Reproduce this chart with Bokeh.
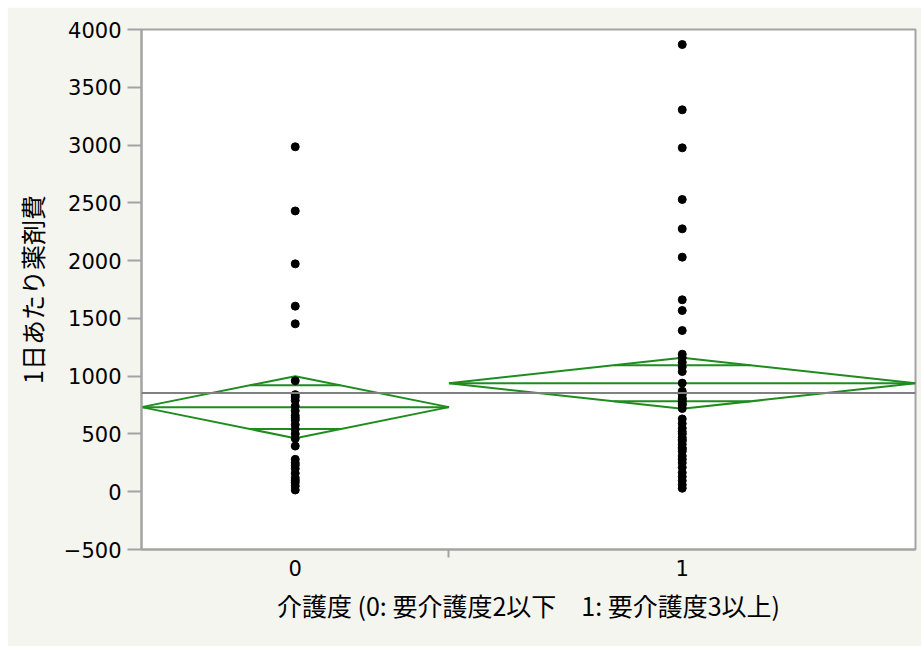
from bokeh.plotting import figure
from bokeh.models import FixedTicker, Span, Range1d
from bokeh.embed import file_html
from bokeh.resources import INLINE

# ---- data ----
group_labels = ["0", "1"]
group0_values = [2985, 2430, 1972, 1606, 1453, 960, 840, 820, 790, 740,
                 700, 660, 640, 620, 580, 540, 500, 460, 395, 280,
                 250, 230, 200, 160, 120, 100, 80, 50, 15]
group1_values = [3870, 3305, 2976, 2529, 2275, 2030, 1661, 1568, 1395, 1190,
                 1160, 1120, 1080, 1040, 940, 870, 840, 810, 800, 780,
                 760, 750, 720, 630, 590, 550, 520, 500, 470, 450,
                 440, 410, 380, 370, 350, 310, 280, 250, 210, 165,
                 130, 95, 60, 30]
group_means = [732, 939]
ci_lower = [463, 717]
ci_upper = [1000, 1159]
grand_mean = 855
y_ticks = [-500, 0, 500, 1000, 1500, 2000, 2500, 3000, 3500, 4000]

# ---- derived layout (group widths proportional to counts, as in JMP) ----
counts = [len(group0_values), len(group1_values)]
starts = [0, counts[0]]
ends = [counts[0], counts[0] + counts[1]]
centers = [(s + e) / 2 for s, e in zip(starts, ends)]
total = ends[-1]

GREEN = "#1e8c1e"
GRAY = "#a3a3a3"
BG = "#f5f5f0"

p = figure(width=914, height=639, output_backend="svg", toolbar_location=None,
           x_range=Range1d(0, total), y_range=Range1d(-500, 4000),
           min_border_left=134, min_border_right=6, min_border_top=22,
           min_border_bottom=97)
p.margin = (7, 0, 0, 7)
p.border_fill_color = BG
p.background_fill_color = "white"
p.outline_line_color = GRAY
p.outline_line_width = 2
p.xgrid.visible = False
p.ygrid.visible = False

# grand mean line
p.add_layout(Span(location=grand_mean, dimension="width",
                  line_color="#808080", line_width=2))

# means diamonds
xs, ys = [], []
for s, e, c, m, lo, hi in zip(starts, ends, centers, group_means, ci_lower, ci_upper):
    xs.append([s, c, e, c])
    ys.append([m, hi, m, lo])
p.patches(xs, ys, fill_color=None, line_color=GREEN, line_width=2)

# mean lines and overlap marks
seg_x0, seg_x1, seg_y = [], [], []
for s, e, c, m, lo, hi in zip(starts, ends, centers, group_means, ci_lower, ci_upper):
    seg_x0.append(s); seg_x1.append(e); seg_y.append(m)
    half_w = (e - s) / 2
    for h, sign in ((hi - m, 1), (m - lo, -1)):
        d = h / 2 ** 0.5
        frac = 1 - d / h
        seg_x0.append(c - half_w * frac)
        seg_x1.append(c + half_w * frac)
        seg_y.append(m + sign * d)
p.segment(x0=seg_x0, y0=seg_y, x1=seg_x1, y1=seg_y, line_color=GREEN, line_width=2)

# data points
px = [centers[0]] * len(group0_values) + [centers[1]] * len(group1_values)
py = group0_values + group1_values
p.scatter(px, py, size=8, color="black")

# axes
p.xaxis.ticker = FixedTicker(ticks=centers, minor_ticks=[ends[0]])
p.xaxis.major_label_overrides = {centers[i]: group_labels[i] for i in range(2)}
p.xaxis.major_tick_out = 0
p.xaxis.major_tick_in = 0
p.xaxis.minor_tick_out = 8
p.xaxis.minor_tick_in = 0
p.xaxis.minor_tick_line_color = GRAY
p.xaxis.minor_tick_line_width = 2
p.xaxis.major_label_standoff = 2
p.xaxis.axis_label = "介護度 (0: 要介護度2以下　1: 要介護度3以上)"
p.xaxis.axis_label_standoff = 8

p.yaxis.ticker = FixedTicker(ticks=y_ticks)
p.yaxis.major_label_overrides = {-500: "\u2212500"}
p.yaxis.major_tick_out = 14
p.yaxis.major_tick_in = 0
p.yaxis.minor_tick_line_color = None
p.yaxis.major_label_standoff = 6
p.yaxis.axis_label = "1日あたり薬剤費"
p.yaxis.axis_label_standoff = 11

for ax in (p.xaxis[0], p.yaxis[0]):
    ax.axis_line_color = GRAY
    ax.axis_line_width = 2
    ax.major_tick_line_color = GRAY
    ax.major_tick_line_width = 2
    ax.major_label_text_font = "DejaVu Sans"
    ax.major_label_text_font_size = "21px"
    ax.major_label_text_color = "black"
    ax.axis_label_text_font = "Noto Sans CJK JP"
    ax.axis_label_text_font_size = "25px"
    ax.axis_label_text_font_style = "normal"
    ax.axis_label_text_color = "black"

open("out.html", "w").write(file_html(p, INLINE))
